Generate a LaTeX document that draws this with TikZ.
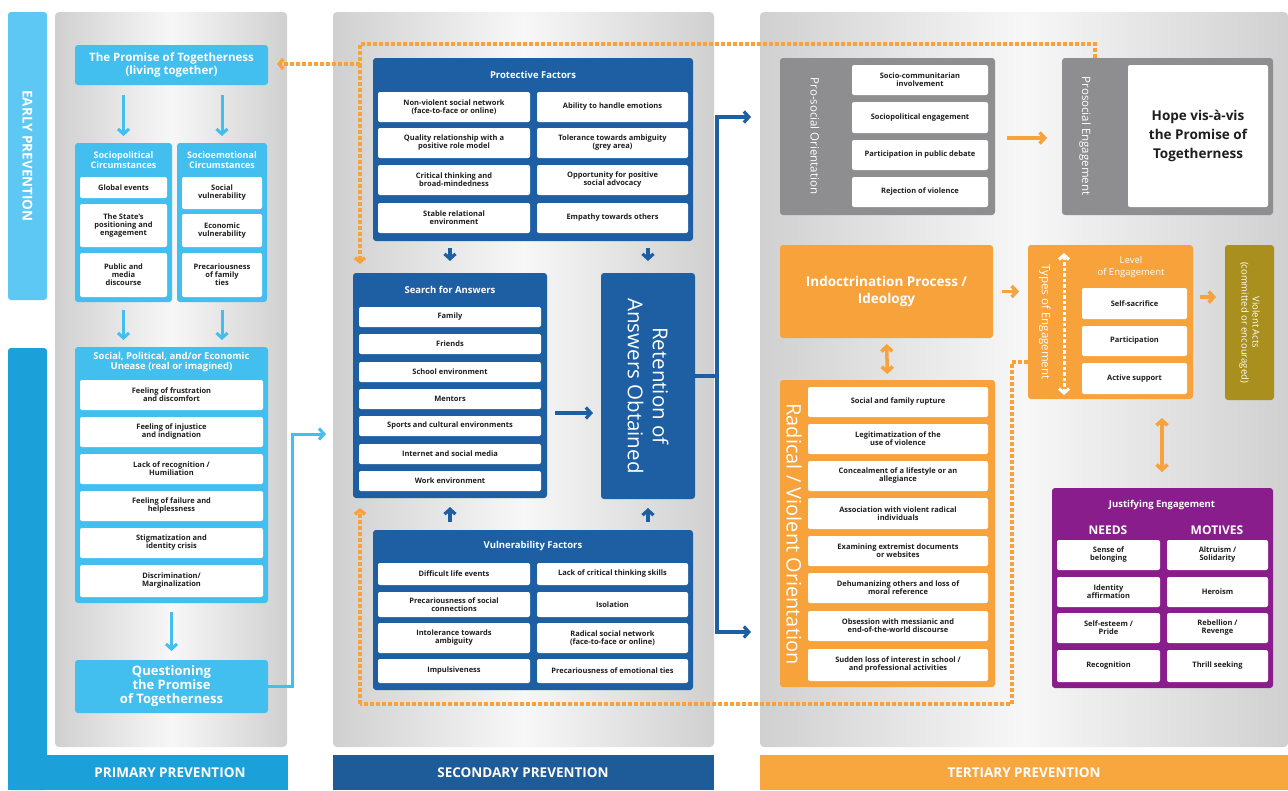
\documentclass[tikz,border=0pt]{standalone}
\usepackage{fontspec}
\setmainfont{Open Sans}
\usetikzlibrary{arrows.meta}
\definecolor{earlyc}{HTML}{5CC8F3}
\definecolor{primc}{HTML}{1BA0DA}
\definecolor{lblue}{HTML}{42BFEE}
\definecolor{dblue}{HTML}{1D5FA2}
\definecolor{secc}{HTML}{1E5B99}
\definecolor{orng}{HTML}{F7A23A}
\definecolor{terc}{HTML}{F8A63E}
\definecolor{greyb}{HTML}{8E8E90}
\definecolor{purp}{HTML}{8A1D8C}
\definecolor{olivec}{HTML}{A88F1E}
\definecolor{pgE}{HTML}{D0D0D0}
\definecolor{pgM}{HTML}{F7F7F7}
\definecolor{txtc}{HTML}{1E1E1E}
\newcommand{\mkbox}[7]{%
  \pgfmathsetmacro{\bxw}{#5-#3}%
  \pgfmathsetmacro{\bxh}{#6-#4}%
  \pgfmathsetmacro{\bxcx}{(#3+#5)/2}%
  \pgfmathsetmacro{\bxcy}{(#4+#6)/2}%
  \node[#2, minimum width=\bxw pt, minimum height=\bxh pt] (#1) at (\bxcx,\bxcy) {#7};}
\begin{document}
\begin{tikzpicture}[x=1pt,y=-1pt,
 panel/.style={rounded corners=4pt, left color=pgE, right color=pgE, middle color=pgM, inner sep=0pt, outer sep=0pt},
 fbox/.style={fill=#1, rounded corners=3pt, inner sep=0pt, outer sep=0pt, text=white, align=center},
 itm/.style={fill=white, rounded corners=2pt, inner sep=0pt, outer sep=0pt, align=center, text=txtc, font=\fontsize{7.5}{8}\selectfont\bfseries},
 hdr/.style={text=white, align=center, inner sep=0pt, font=\fontsize{9.5}{10.5}\selectfont\bfseries},
 rot/.style={rotate=-90, text=white, align=center, inner sep=0pt},
 barlbl/.style={text=white, inner sep=0pt, font=\fontsize{13.5}{14}\selectfont\bfseries},
 lbarrow/.style={draw=lblue, line width=3pt, -{Straight Barb[length=5pt,width=11pt]}},
 dbline/.style={draw=dblue, line width=3.2pt},
 dbarrow/.style={draw=dblue, line width=3.2pt, -{Straight Barb[length=5pt,width=11pt]}},
 orarrow/.style={draw=orng, line width=3.5pt, -{Straight Barb[length=5pt,width=11pt]}},
 ordouble/.style={draw=orng, line width=3.5pt, {Straight Barb[length=5pt,width=11pt]}-{Straight Barb[length=5pt,width=11pt]}},
 odash/.style={draw=orng, line width=3.5pt, dash pattern=on 4pt off 2pt},
 odasharrow/.style={odash, -{Straight Barb[length=4pt,width=10pt]}},
]
\useasboundingbox (0,0) rectangle (1288,790);
\fill[white] (0,0) rectangle (1288,790);

% ---------- side and bottom bars
\mkbox{early}{fbox=earlyc}{8}{12}{47}{300}{}
\node[rot, font=\fontsize{13.5}{14}\selectfont\bfseries] (earlyt) at (early.center) {EARLY PREVENTION};
\mkbox{primbar}{fbox=primc}{8}{348}{47}{790}{}
\mkbox{primbot}{fbox=primc, rounded corners=0pt}{8}{755}{288}{790}{}
\node[barlbl] (primt) at (170,773) {PRIMARY PREVENTION};
\mkbox{secbot}{fbox=secc, rounded corners=0pt}{333}{755}{714}{790}{}
\node[barlbl] (sect) at (523,773) {SECONDARY PREVENTION};
\mkbox{terbot}{fbox=terc, rounded corners=0pt}{760}{755}{1288}{790}{}
\node[barlbl] (tert) at (1024,773) {TERTIARY PREVENTION};

% ---------- panels
\mkbox{pan1}{panel}{55}{12}{287}{747}{}
\mkbox{pan2}{panel}{333}{12}{714}{747}{}
\mkbox{pan3}{panel}{760}{12}{1288}{747}{}

% ---------- primary column
\mkbox{prom}{fbox=lblue, font=\fontsize{11.5}{12.5}\selectfont\bfseries}{75}{45}{268}{85}{The Promise of Togetherness\\(living together)}
\mkbox{socp}{fbox=lblue}{75}{143}{172}{302}{}
\mkbox{soce}{fbox=lblue}{177}{143}{267}{302}{}
\node[hdr, font=\fontsize{9}{10}\selectfont\bfseries] (socph) at (123.5,160) {Sociopolitical\\Circumstances};
\node[hdr, font=\fontsize{9}{10}\selectfont\bfseries] (soceh) at (222,160) {Socioemotional\\Circumstances};
\mkbox{ge}{itm}{80}{177}{167}{198}{Global events}
\mkbox{sp}{itm}{80}{204}{167}{247}{The State's\\positioning and\\engagement}
\mkbox{pm}{itm}{80}{253}{167}{297}{Public and\\media\\discourse}
\mkbox{sv}{itm}{182}{177}{262}{209}{Social\\vulnerability}
\mkbox{ev}{itm}{182}{214}{262}{247}{Economic\\vulnerability}
\mkbox{pf}{itm}{182}{253}{262}{297}{Precariousness\\of family\\ties}
\draw[lbarrow, shorten <=10pt, shorten >=7pt] (prom.south -| socp.north) -- (socp.north);
\draw[lbarrow, shorten <=10pt, shorten >=7pt] (prom.south -| soce.north) -- (soce.north);

\mkbox{unease}{fbox=lblue}{75}{347}{268}{603}{}
\node[hdr] (uneaseh) at (171.5,362) {Social, Political, and/or Economic\\Unease (real or imagined)};
\mkbox{u1}{itm}{80}{380}{263}{410}{Feeling of frustration\\and discomfort}
\mkbox{u2}{itm}{80}{417}{263}{447}{Feeling of injustice\\and indignation}
\mkbox{u3}{itm}{80}{454}{263}{484}{Lack of recognition /\\Humiliation}
\mkbox{u4}{itm}{80}{491}{263}{521}{Feeling of failure and\\helplessness}
\mkbox{u5}{itm}{80}{528}{263}{558}{Stigmatization and\\identity crisis}
\mkbox{u6}{itm}{80}{565}{263}{597}{Discrimination/\\Marginalization}
\draw[lbarrow, shorten <=8pt, shorten >=7pt] (socp.south) -- (socp.south |- unease.north);
\draw[lbarrow, shorten <=8pt, shorten >=7pt] (soce.south) -- (soce.south |- unease.north);

\mkbox{quest}{fbox=lblue, font=\fontsize{13}{14}\selectfont\bfseries}{75}{660}{268}{713}{Questioning\\the Promise\\of Togetherness}
\draw[lbarrow, shorten <=9pt, shorten >=9pt] (unease.south) -- (quest.north);
\coordinate (qturn) at (292,434);
\coordinate (qend) at (326,434);
\draw[lbarrow] (quest.east) -| (qturn) -- (qend);

% ---------- secondary column
\mkbox{prot}{fbox=dblue}{373}{58}{693}{241}{}
\node[hdr] (proth) at (533,75) {Protective Factors};
\mkbox{p1}{itm}{378}{92}{530}{122}{Non-violent social network\\(face-to-face or online)}
\mkbox{p2}{itm}{537}{92}{688}{122}{Ability to handle emotions}
\mkbox{p3}{itm}{378}{128}{530}{158}{Quality relationship with a\\positive role model}
\mkbox{p4}{itm}{537}{128}{688}{158}{Tolerance towards ambiguity\\(grey area)}
\mkbox{p5}{itm}{378}{165}{530}{195}{Critical thinking and\\broad-mindedness}
\mkbox{p6}{itm}{537}{165}{688}{195}{Opportunity for positive\\social advocacy}
\mkbox{p7}{itm}{378}{203}{530}{233}{Stable relational\\environment}
\mkbox{p8}{itm}{537}{203}{688}{233}{Empathy towards others}

\mkbox{srch}{fbox=dblue}{353}{273}{547}{498}{}
\node[hdr] (srchh) at (450,290) {Search for Answers};
\mkbox{s1}{itm}{359}{307}{541}{327}{Family}
\mkbox{s2}{itm}{359}{334}{541}{354}{Friends}
\mkbox{s3}{itm}{359}{362}{541}{382}{School environment}
\mkbox{s4}{itm}{359}{389}{541}{409}{Mentors}
\mkbox{s5}{itm}{359}{416}{541}{436}{Sports and cultural environments}
\mkbox{s6}{itm}{359}{444}{541}{464}{Internet and social media}
\mkbox{s7}{itm}{359}{471}{541}{491}{Work environment}

\mkbox{ret}{fbox=dblue}{601}{273}{695}{499}{}
\node[rot, font=\fontsize{20.5}{25}\selectfont] (rett) at (ret.center) {Retention of\\Answers Obtained};

\mkbox{vuln}{fbox=dblue}{373}{530}{693}{690}{}
\node[hdr] (vulnh) at (533,546) {Vulnerability Factors};
\mkbox{v1}{itm}{378}{563}{530}{585}{Difficult life events}
\mkbox{v2}{itm}{537}{563}{688}{585}{Lack of critical thinking skills}
\mkbox{v3}{itm}{378}{592}{530}{617}{Precariousness of social\\connections}
\mkbox{v4}{itm}{537}{592}{688}{617}{Isolation}
\mkbox{v5}{itm}{378}{623}{530}{653}{Intolerance towards\\ambiguity}
\mkbox{v6}{itm}{537}{623}{688}{653}{Radical social network\\(face-to-face or online)}
\mkbox{v7}{itm}{378}{659}{530}{683}{Impulsiveness}
\mkbox{v8}{itm}{537}{659}{688}{683}{Precariousness of emotional ties}

\draw[dbarrow, shorten <=7pt, shorten >=12pt] (prot.south -| srch.north) -- (srch.north);
\draw[dbarrow, shorten <=7pt, shorten >=12pt] (prot.south -| ret.north) -- (ret.north);
\draw[dbarrow, shorten <=8pt, shorten >=9pt] (vuln.north -| srch.south) -- (srch.south);
\draw[dbarrow, shorten <=8pt, shorten >=9pt] (vuln.north -| ret.south) -- (ret.south);
\draw[dbarrow, shorten <=8pt, shorten >=8pt] (srch.east |- 0,413) -- (ret.west |- 0,413);

\coordinate (bj) at (717,376);
\coordinate (btop) at (751,117);
\coordinate (bbot) at (751,632);
\draw[dbline] (ret.east |- bj) -- (bj);
\draw[dbarrow] (bj) |- (btop);
\draw[dbarrow] (bj) |- (bbot);

% ---------- tertiary column
\mkbox{proso}{fbox=greyb}{780}{58}{995}{215}{}
\node[rot, font=\fontsize{11.5}{12}\selectfont] (prosot) at (815,136) {Pro-social Orientation};
\mkbox{r1}{itm}{852}{65}{988}{95}{Socio-communitarian\\involvement}
\mkbox{r2}{itm}{852}{102}{988}{133}{Sociopolitical engagement}
\mkbox{r3}{itm}{852}{140}{988}{170}{Participation in public debate}
\mkbox{r4}{itm}{852}{177}{988}{207}{Rejection of violence}

\mkbox{proe}{fbox=greyb}{1062}{58}{1273}{215}{}
\node[rot, font=\fontsize{11.5}{12}\selectfont] (proet) at (1085,136) {Prosocial Engagement};
\mkbox{hope}{itm, font=\fontsize{13.5}{19}\selectfont\bfseries}{1128}{65}{1268}{207}{Hope vis-à-vis\\the Promise of\\Togetherness}
\draw[orarrow, shorten <=12pt, shorten >=15pt] (proso.east |- 0,138) -- (proe.west |- 0,138);

\mkbox{indo}{fbox=orng, font=\fontsize{13.5}{17}\selectfont\bfseries}{780}{245}{993}{338}{Indoctrination Process /\\Ideology}
\mkbox{rad}{fbox=orng}{780}{380}{995}{687}{}
\node[rot, font=\fontsize{20}{21}\selectfont] (radt) at (794,534) {Radical / Violent Orientation};
\mkbox{a1}{itm}{808}{387}{988}{417}{Social and family rupture}
\mkbox{a2}{itm}{808}{424}{988}{454}{Legitimatization of the\\use of violence}
\mkbox{a3}{itm}{808}{461}{988}{491}{Concealment of a lifestyle or an\\allegiance}
\mkbox{a4}{itm}{808}{498}{988}{529}{Association with violent radical\\individuals}
\mkbox{a5}{itm}{808}{536}{988}{566}{Examining extremist documents\\or websites}
\mkbox{a6}{itm}{808}{573}{988}{603}{Dehumanizing others and loss of\\moral reference}
\mkbox{a7}{itm}{808}{611}{988}{641}{Obsession with messianic and\\end-of-the-world discourse}
\mkbox{a8}{itm}{808}{649}{988}{681}{Sudden loss of interest in school /\\and professional activities}
\draw[ordouble, shorten <=6pt, shorten >=6pt] (indo.south) -- (rad.north);

\mkbox{typ}{fbox=orng}{1028}{245}{1193}{399}{}
\node[rot, font=\fontsize{11.5}{12}\selectfont] (typt) at (1045,322) {Types of Engagement};
\coordinate (ta) at (1064,253);
\coordinate (tb) at (1064,395);
\draw[white, line width=3pt, dash pattern=on 3.5pt off 2pt, {Straight Barb[length=4.5pt,width=10pt]}-{Straight Barb[length=4.5pt,width=10pt]}] (ta) -- (tb);
\node[hdr, font=\fontsize{9.5}{12}\selectfont] (lvlh) at (1131,267) {Level\\of Engagement};
\mkbox{t1}{itm}{1082}{288}{1187}{319}{Self-sacrifice}
\mkbox{t2}{itm}{1082}{326}{1187}{356}{Participation}
\mkbox{t3}{itm}{1082}{363}{1187}{394}{Active support}
\draw[orarrow, shorten <=9pt, shorten >=9pt] (indo.east) -- (typ.west |- indo.east);

\mkbox{vio}{fbox=olivec}{1225}{245}{1274}{400}{}
\node[rot, font=\fontsize{9.5}{11}\selectfont] (viot) at (vio.center) {Violent Acts\\(committed or encouraged)};
\draw[orarrow, shorten <=7pt, shorten >=9pt] (typ.east |- 0,297) -- (vio.west |- 0,297);

\mkbox{just}{fbox=purp}{1052}{488}{1273}{688}{}
\node[hdr] (justh) at (1162,505) {Justifying Engagement};
\node[hdr, font=\fontsize{12}{13}\selectfont\bfseries] (needs) at (1108,530) {NEEDS};
\node[hdr, font=\fontsize{12}{13}\selectfont\bfseries] (motives) at (1217,530) {MOTIVES};
\mkbox{j1}{itm}{1057}{540}{1160}{570}{Sense of\\belonging}
\mkbox{j2}{itm}{1167}{540}{1268}{570}{Altruism /\\Solidarity}
\mkbox{j3}{itm}{1057}{577}{1160}{607}{Identity\\affirmation}
\mkbox{j4}{itm}{1167}{577}{1268}{607}{Heroism}
\mkbox{j5}{itm}{1057}{613}{1160}{643}{Self-esteem /\\Pride}
\mkbox{j6}{itm}{1167}{613}{1268}{643}{Rebellion /\\Revenge}
\mkbox{j7}{itm}{1057}{650}{1160}{682}{Recognition}
\mkbox{j8}{itm}{1167}{650}{1268}{682}{Thrill seeking}
\draw[ordouble, shorten <=19pt, shorten >=16pt] (typ.south -| 1162,0) -- (just.north -| 1162,0);

% ---------- orange dashed feedback lines
\coordinate (dtop1) at (1095,44);
\coordinate (dtop2) at (360,44);
\coordinate (dsplit) at (360,64);
\coordinate (dprom) at (277,64);
\coordinate (dsrch) at (360,264);
\draw[odash] (proe.north -| dtop1) -- (dtop1) -- (dtop2) -- (dsplit);
\draw[odasharrow] (dsplit) -- (dsrch);
\draw[odasharrow] (dsplit) -- (dprom);

\coordinate (dr1) at (1012,362);
\coordinate (dr2) at (1012,704);
\coordinate (dl2) at (360,704);
\coordinate (dvul) at (360,508);
\draw[odash] (typ.west |- dr1) -- (dr1) -- (dr2) -- (dl2);
\draw[odasharrow] (dl2) -- (dvul);
\end{tikzpicture}
\end{document}
